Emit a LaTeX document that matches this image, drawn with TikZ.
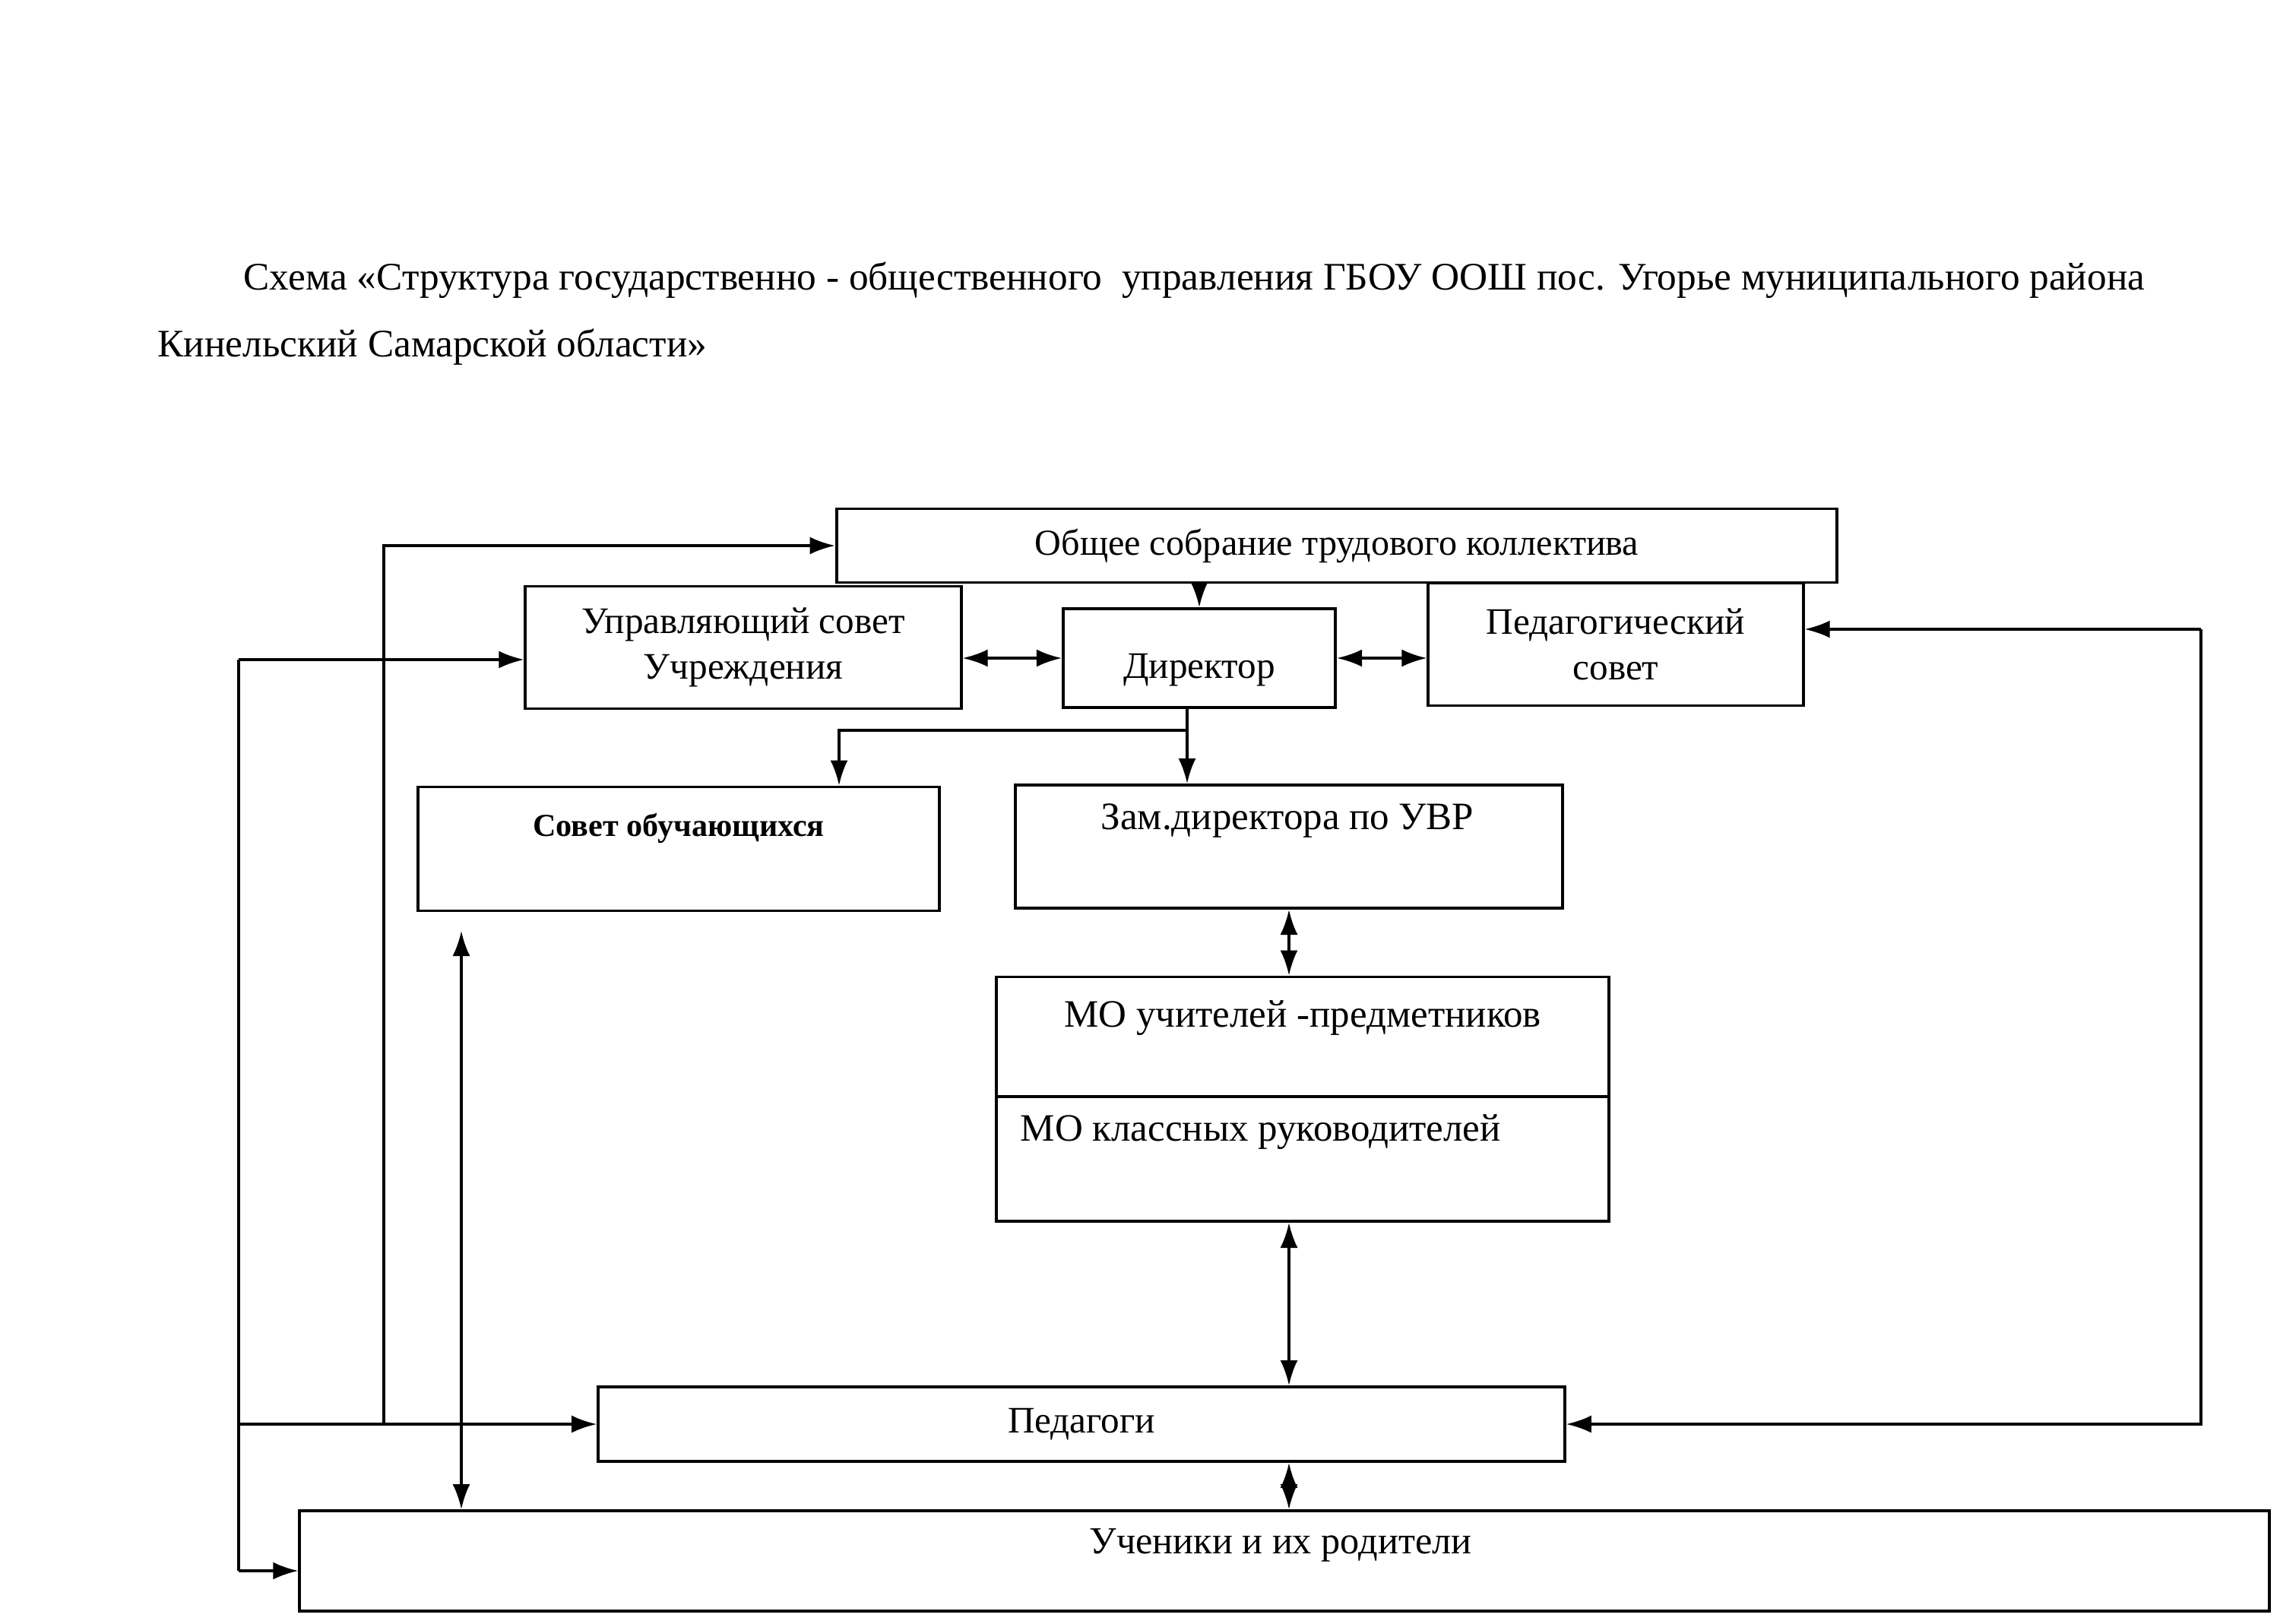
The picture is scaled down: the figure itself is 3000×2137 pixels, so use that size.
\documentclass[tikz,border=0pt]{standalone}
\usepackage{fontspec}
\setmainfont{Liberation Serif}
\usetikzlibrary{arrows.meta}

\begin{document}
\begin{tikzpicture}[x=0.01cm, y=-0.01cm]
\tikzstyle{boxstyle}=[draw, line width=1.1pt, inner sep=0pt, align=center, font=\fontsize{14}{17}\selectfont]
\tikzstyle{textstyle}=[inner sep=0pt, font=\fontsize{14.5}{17}\selectfont]
\tikzstyle{arrowstyle}=[-{Latex[length=3.3mm,width=2.3mm]}, line width=1pt]
\tikzstyle{dblarrowstyle}=[{Latex[length=3.3mm,width=2.3mm]}-{Latex[length=3.3mm,width=2.3mm]}, line width=1pt]
    \useasboundingbox (0,0) rectangle (3000,2137);
    \node[textstyle, font=\fontsize{14.6}{17}\selectfont, anchor=base west] (title1) at (320,382) {Схема «Структура государственно - общественного \ управления ГБОУ ООШ пос. Угорье муниципального района};
    \node[textstyle, font=\fontsize{14.6}{17}\selectfont, anchor=base west] (title2) at (207,470) {Кинельский Самарской области»};
    \node[boxstyle, font=\fontsize{13.7}{17}\selectfont, minimum width=13.16cm, minimum height=0.97cm] (obshee) at (1759,718) {Общее собрание трудового коллектива};
    \node[boxstyle, minimum width=5.73cm, minimum height=1.61cm] (upr) at (978,852) {Управляющий совет\\Учреждения};
    \node[boxstyle, minimum width=3.58cm, minimum height=1.30cm] (dir) at (1578,866) {};
    \node[textstyle, font=\fontsize{14}{17}\selectfont] (dirtxt) at (1578,882) {Директор};
    \node[boxstyle, minimum width=4.93cm, minimum height=1.61cm] (ped) at (2126,848) {Педагогический\\совет};
    \node[boxstyle, minimum width=6.86cm, minimum height=1.63cm] (sovet) at (893,1117) {};
    \node[textstyle, font=\fontsize{12}{14}\selectfont\bfseries] (sovettxt) at (893,1090) {Совет обучающихся};
    \node[boxstyle, minimum width=7.20cm, minimum height=1.62cm] (zam) at (1696,1114) {};
    \node[textstyle] (zamtxt) at (1694,1080) {Зам.директора по УВР};
    \node[boxstyle, minimum width=8.05cm, minimum height=1.57cm] (mo1) at (1714,1364) {};
    \node[textstyle] (mo1txt) at (1714,1340) {МО учителей -предметников};
    \node[boxstyle, minimum width=8.05cm, minimum height=1.64cm] (mo2) at (1714,1525) {};
    \node[textstyle, anchor=west] (mo2txt) at (1342,1490) {МО классных руководителей};
    \node[boxstyle, minimum width=12.71cm, minimum height=0.98cm] (pedagogi) at (1423,1874) {Педагоги};
    \node[boxstyle, minimum width=25.90cm, minimum height=1.32cm] (uch) at (1690,2054) {};
    \node[textstyle, font=\fontsize{14.3}{17}\selectfont] (uchtxt) at (1685,2033) {Ученики и их родители};
    % points where the lines turn
    \coordinate (br) at (1562,961);
    \coordinate (sv) at (1104,1000);
    \coordinate (lb) at (314,868);
    \coordinate (lbb) at (314,2067);
    \coordinate (lm) at (505,718);
    \coordinate (sx) at (607,1225);
    \coordinate (rb) at (2896,828);
    \draw[arrowstyle] (dir.north |- obshee.south) -- (dir.north);
    \draw[dblarrowstyle] (upr.east |- dir.west) -- (dir.west);
    \draw[dblarrowstyle] (dir.east) -- (ped.west |- dir.east);
    \draw[line width=1pt] (br |- dir.south) -- (br);
    \draw[arrowstyle] (br) -- (br |- zam.north);
    \draw[arrowstyle] (br) -| (sv |- sovet.north);
    \draw[dblarrowstyle] (zam.south) -- (zam.south |- mo1.north);
    \draw[dblarrowstyle] (zam.south |- mo2.south) -- (zam.south |- pedagogi.north);
    \draw[dblarrowstyle] (zam.south |- pedagogi.south) -- (zam.south |- uch.north);
    \draw[dblarrowstyle] (sx) -- (sx |- uch.north);
    \draw[line width=1pt] (lb) -- (lbb);
    \draw[arrowstyle] (lb) -- (lb -| upr.west);
    \draw[arrowstyle] (lb |- pedagogi.west) -- (pedagogi.west);
    \draw[arrowstyle] (lbb) -- (lbb -| uch.west);
    \draw[arrowstyle] (lm |- pedagogi.west) |- (obshee.west);
    \draw[arrowstyle] (rb) -- (rb -| ped.east);
    \draw[arrowstyle] (rb) |- (pedagogi.east);
\end{tikzpicture}
\end{document}
